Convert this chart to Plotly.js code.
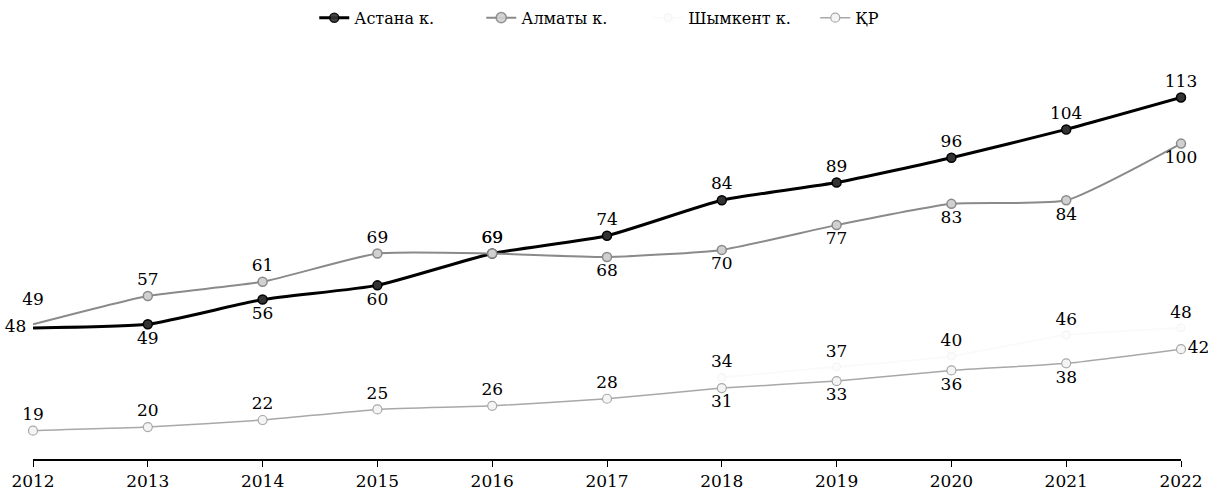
<!DOCTYPE html>
<html>
<head>
<meta charset="utf-8">
<script src="https://cdn.plot.ly/plotly-3.0.1.min.js"></script>
<style>
	html, body { margin: 0; padding: 0; background: #fff; }
	#chart { width: 1210px; height: 494px; }
</style>
</head>
<body>
<div id="chart"></div>
<script>
const years = [2012, 2013, 2014, 2015, 2016, 2017, 2018, 2019, 2020, 2021, 2022];
const astana = [48, 49, 56, 60, 69, 74, 84, 89, 96, 104, 113];
const almaty = [49, 57, 61, 69, 69, 68, 70, 77, 83, 84, 100];
const shymkentYears = [2018, 2019, 2020, 2021, 2022];
const shymkent = [34, 37, 40, 46, 48];
const kr = [19, 20, 22, 25, 26, 28, 31, 33, 36, 38, 42];

const astanaPos = ["middle left", "bottom center", "bottom center", "bottom center", "top center", "top center", "top center", "top center", "top center", "top center", "top center"];
const almatyPos = ["top center", "top center", "top center", "top center", "top center", "bottom center", "bottom center", "bottom center", "bottom center", "bottom center", "bottom center"];
const krPos = ["top center", "top center", "top center", "top center", "top center", "top center", "bottom center", "bottom center", "bottom center", "bottom center", "middle right"];

const serif = "DejaVu Serif, Liberation Serif, serif";
const labelFont = { family: serif, size: 17, color: "#000" };

// the two city lines start without a visible marker in the original
const hideFirst = years.map((y, i) => (i === 0 ? 0 : 1));

function series(name, x, y, pos, line, marker) {
	return {
		x: x,
		y: y,
		name: name,
		type: "scatter",
		mode: "lines+markers+text",
		text: y.map(String),
		textposition: pos,
		textfont: labelFont,
		cliponaxis: false,
		hoverinfo: "x+y",
		line: line,
		marker: marker
	};
}

const data = [
	series("Астана к.", years, astana, astanaPos,
		{ color: "#000", width: 3, shape: "spline", smoothing: 0.5 },
		{ size: 9, opacity: hideFirst, color: "#333", line: { color: "#000", width: 1.5 } }),
	series("Алматы к.", years, almaty, almatyPos,
		{ color: "#8a8a8a", width: 2, shape: "spline", smoothing: 0.5 },
		{ size: 9, opacity: hideFirst, color: "#d0d0d0", line: { color: "#8a8a8a", width: 1.5 } }),
	series("Шымкент к.", shymkentYears, shymkent, "top center",
		{ color: "#fafafa", width: 2, shape: "spline", smoothing: 0.5 },
		{ size: 8, color: "#fcfcfc", line: { color: "#f4f4f4", width: 1 } }),
	series("ҚР", years, kr, krPos,
		{ color: "#a8a8a8", width: 1.5, shape: "spline", smoothing: 0.5 },
		{ size: 9, color: "#f4f4f4", line: { color: "#a8a8a8", width: 1.2 } })
];
// first Almaty marker is hidden but larger, which lifts its label clear of the line
data[1].marker.size = years.map((y, i) => (i === 0 ? 22 : 9));

const layout = {
	width: 1210,
	height: 494,
	margin: { l: 33, r: 29, t: 55, b: 35, pad: 0, autoexpand: false },
	paper_bgcolor: "#fff",
	plot_bgcolor: "#fff",
	showlegend: true,
	legend: {
		orientation: "h",
		x: 0.245,
		xanchor: "left",
		y: 1.05,
		yanchor: "bottom",
		font: { family: serif, size: 16, color: "#000" },
		itemwidth: 30,
		entrywidth: 122,
		traceorder: "normal"
	},
	xaxis: {
		type: "linear",
		range: [2012, 2022],
		tickvals: years,
		ticktext: years.map(String),
		showgrid: false,
		zeroline: false,
		showline: true,
		linecolor: "#000",
		linewidth: 1.5,
		ticks: "outside",
		ticklen: 6,
		tickcolor: "#000",
		tickfont: { family: serif, size: 17, color: "#000" }
	},
	yaxis: {
		range: [11, 125],
		visible: false,
		showgrid: false,
		zeroline: false
	}
};

Plotly.newPlot("chart", data, layout, { displayModeBar: false, staticPlot: true });
</script>
</body>
</html>
